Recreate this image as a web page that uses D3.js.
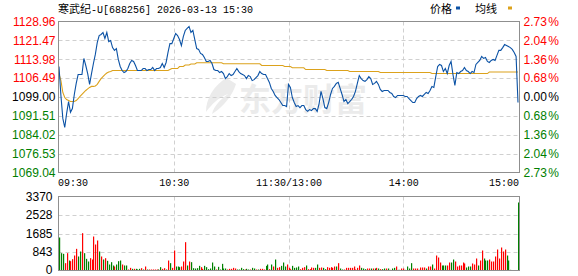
<html>
<head>
<meta charset="utf-8">
<script src="https://d3js.org/d3.v7.min.js"></script>
<style>
body { margin: 0; background: #fff; }
</style>
</head>
<body>
<svg width="578" height="276"></svg>
<script>
var title = "寒武纪";
var titleRest = "-U[688256] 2026-03-13 15:30";
var preClose = 1099.00;
var priceTicks = [1128.96, 1121.47, 1113.98, 1106.49, 1099.00, 1091.51, 1084.02, 1076.53, 1069.04];
var pctLabels = ["2.73", "2.04", "1.36", "0.68", "0.00", "0.68", "1.36", "2.04", "2.73"];
var volTicks = [0, 843, 1685, 2528, 3370];
var timeTicks = [0, 60, 120, 180, 240];
var timeLabels = ["09:30", "10:30", "11:30/13:00", "14:00", "15:00"];
var legendNames = ["价格", "均线"];

// one value per minute, 09:30 .. 11:30, 13:01 .. 15:00
var price = [
  1111.1, 1099.6, 1090.5, 1086.9, 1092.5, 1097.2, 1092.9, 1094.4, 1100.0, 1104.4,
  1107.9, 1107.9, 1107.9, 1114.3, 1111.5, 1108.3, 1104.0, 1108.3, 1112.3, 1115.9,
  1120.6, 1123.4, 1123.8, 1124.6, 1122.2, 1124.6, 1121.0, 1121.4, 1118.6, 1117.5,
  1118.2, 1113.9, 1111.1, 1109.5, 1108.7, 1109.1, 1110.3, 1112.3, 1113.5, 1113.1,
  1111.5, 1109.5, 1109.5, 1109.5, 1110.3, 1110.3, 1109.5, 1109.9, 1109.9, 1110.7,
  1109.5, 1110.3, 1110.3, 1110.7, 1112.3, 1110.7, 1112.7, 1116.7, 1120.2, 1120.2,
  1122.2, 1124.2, 1123.4, 1121.8, 1119.4, 1123.0, 1125.4, 1126.2, 1127.0, 1124.6,
  1125.4, 1121.8, 1118.2, 1117.9, 1116.3, 1115.9, 1114.7, 1113.1, 1113.1, 1113.5,
  1112.3, 1109.9, 1109.5, 1109.5, 1108.7, 1109.1, 1108.3, 1106.3, 1107.1, 1108.3,
  1107.5, 1107.9, 1109.1, 1110.3, 1109.1, 1108.3, 1107.9, 1107.5, 1106.3, 1107.5,
  1107.1, 1105.5, 1105.9, 1106.7, 1107.5, 1109.1, 1108.3, 1107.9, 1107.9, 1106.3,
  1104.8, 1102.4, 1101.2, 1099.6, 1098.8, 1098.0, 1096.8, 1095.6, 1095.6, 1095.2,
  1104.0, 1102.8, 1098.8, 1096.8, 1095.2, 1095.6, 1094.8, 1095.6, 1095.6, 1094.0,
  1093.3, 1094.0, 1093.6, 1094.4, 1094.4, 1093.3, 1096.4, 1101.2, 1098.4, 1094.8,
  1094.4, 1096.8, 1100.0, 1102.4, 1103.2, 1104.4, 1104.8, 1102.4, 1100.0, 1097.2,
  1098.0, 1096.4, 1097.2, 1098.0, 1099.2, 1101.2, 1104.4, 1107.5, 1106.3, 1105.5,
  1105.2, 1105.9, 1107.1, 1106.3, 1104.0, 1104.4, 1105.2, 1104.0, 1102.0, 1101.2,
  1101.6, 1101.6, 1101.6, 1100.8, 1100.4, 1099.2, 1098.8, 1099.6, 1099.6, 1099.6,
  1099.6, 1099.2, 1099.2, 1098.4, 1097.6, 1096.8, 1096.8, 1098.4, 1099.2, 1099.6,
  1099.2, 1100.0, 1100.8, 1100.4, 1101.6, 1103.2, 1102.8, 1107.1, 1111.1, 1111.9,
  1111.5, 1109.1, 1110.3, 1108.3, 1111.5, 1113.1, 1107.9, 1103.6, 1108.7, 1108.3,
  1109.1, 1109.5, 1110.7, 1109.5, 1109.1, 1108.3, 1109.1, 1108.7, 1111.9, 1112.7,
  1113.5, 1115.1, 1114.3, 1114.7, 1113.1, 1112.7, 1113.5, 1113.9, 1113.5, 1115.5,
  1117.5, 1117.5, 1118.6, 1119.8, 1119.4, 1119.0, 1118.6, 1117.9, 1116.7, 1115.1,
  1096.8
];

var avgPrice = [
  1108.3, 1105.5, 1100.8, 1098.8, 1098.0, 1097.6, 1097.2, 1097.2, 1097.2, 1097.6,
  1098.4, 1099.2, 1100.0, 1100.8, 1101.6, 1102.2, 1102.8, 1103.2, 1103.2, 1103.4,
  1104.0, 1105.2, 1106.3, 1107.1, 1107.9, 1108.5, 1108.9, 1109.1, 1109.5, 1109.5,
  1109.5, 1109.5, 1109.5, 1109.5, 1109.5, 1109.5, 1109.5, 1109.5, 1109.5, 1109.5,
  1109.5, 1109.5, 1109.5, 1109.5, 1109.5, 1109.5, 1109.5, 1109.5, 1109.5, 1109.5,
  1109.5, 1109.5, 1109.5, 1109.5, 1109.5, 1109.5, 1109.5, 1109.5, 1109.9, 1110.3,
  1110.3, 1110.3, 1110.3, 1111.1, 1111.1, 1111.1, 1111.7, 1111.7, 1111.7, 1112.1,
  1112.1, 1112.1, 1112.6, 1112.6, 1112.6, 1112.6, 1112.6, 1112.6, 1112.6, 1112.6,
  1112.6, 1112.6, 1112.6, 1112.6, 1112.6, 1112.6, 1112.2, 1112.2, 1112.2, 1112.2,
  1112.2, 1112.2, 1112.2, 1112.2, 1112.2, 1112.2, 1112.2, 1112.2, 1112.2, 1112.2,
  1112.2, 1112.2, 1112.2, 1112.2, 1112.2, 1112.2, 1111.5, 1111.5, 1111.5, 1111.5,
  1111.5, 1111.5, 1111.5, 1111.5, 1111.5, 1111.5, 1111.5, 1111.5, 1111.1, 1111.1,
  1111.1, 1111.1, 1110.6, 1110.6, 1110.6, 1110.6, 1110.6, 1110.6, 1110.6, 1109.9,
  1109.9, 1109.9, 1109.9, 1109.9, 1109.9, 1109.9, 1109.9, 1109.9, 1109.9, 1109.9,
  1109.5, 1109.5, 1109.5, 1109.5, 1109.5, 1109.5, 1109.5, 1109.5, 1109.5, 1109.5,
  1109.5, 1109.5, 1109.1, 1109.1, 1109.1, 1109.1, 1109.1, 1109.1, 1109.1, 1109.1,
  1109.1, 1109.1, 1109.1, 1109.1, 1109.1, 1109.1, 1109.1, 1109.1, 1108.7, 1108.7,
  1108.7, 1108.7, 1108.7, 1108.7, 1108.7, 1108.7, 1108.7, 1108.7, 1108.7, 1108.7,
  1108.7, 1108.7, 1108.7, 1108.7, 1108.7, 1108.7, 1108.7, 1108.7, 1108.7, 1108.7,
  1108.7, 1108.7, 1108.7, 1108.7, 1108.7, 1108.3, 1108.3, 1108.3, 1108.3, 1108.3,
  1108.3, 1108.3, 1108.3, 1108.3, 1108.3, 1108.3, 1108.3, 1108.3, 1108.3, 1108.3,
  1108.3, 1108.3, 1108.3, 1108.3, 1108.3, 1108.3, 1108.3, 1108.3, 1108.3, 1108.3,
  1108.3, 1108.3, 1108.3, 1108.3, 1108.3, 1108.9, 1108.9, 1108.9, 1108.9, 1108.9,
  1108.9, 1108.9, 1108.9, 1108.9, 1108.9, 1108.9, 1108.9, 1108.9, 1108.9, 1108.9,
  1108.9
];

var volume = [
  1503, 789, 759, 334, 789, 455, 425, 516, 683, 986,
  638, 865, 1700, 789, 531, 410, 561, 501, 1548, 1184,
  1366, 865, 638, 501, 561, 440, 273, 379, 228, 182,
  273, 425, 455, 273, 228, 228, 46, 121, 76, 76,
  76, 46, 76, 106, 46, 182, 46, 46, 46, 46,
  46, 46, 46, 152, 76, 106, 46, 455, 334, 121,
  911, 182, 182, 152, 182, 410, 1290, 228, 410, 379,
  106, 91, 106, 212, 152, 76, 212, 152, 61, 91,
  364, 182, 46, 167, 46, 303, 91, 91, 46, 76,
  76, 121, 91, 46, 46, 121, 61, 46, 76, 46,
  46, 121, 91, 46, 46, 76, 76, 46, 212, 273,
  61, 273, 182, 501, 121, 152, 212, 364, 182, 273,
  121, 61, 212, 121, 137, 182, 61, 121, 152, 228,
  61, 61, 137, 121, 121, 273, 121, 137, 121, 61,
  152, 121, 152, 121, 182, 182, 334, 91, 46, 46,
  121, 121, 121, 121, 182, 46, 121, 228, 121, 91,
  61, 91, 91, 91, 91, 91, 121, 91, 61, 61,
  91, 91, 91, 30, 91, 121, 182, 30, 30, 91,
  91, 30, 182, 91, 334, 91, 91, 91, 30, 137,
  137, 137, 91, 182, 182, 273, 91, 683, 592, 364,
  228, 228, 228, 228, 364, 364, 501, 410, 182, 228,
  228, 364, 319, 137, 182, 182, 319, 273, 546, 228,
  455, 911, 546, 455, 455, 501, 410, 410, 638, 956,
  546, 1047, 865, 956, 683, 455, 30, 0, 0, 0,
  3097
];

// 1 = up minute (red), 0 = down minute (green)
var volUp = [
  0, 0, 0, 1, 1, 0, 1, 1, 1, 1,
  0, 0, 1, 0, 0, 0, 1, 1, 1, 1,
  1, 0, 1, 0, 1, 0, 0, 0, 0, 1,
  0, 0, 0, 1, 0, 0, 1, 1, 0, 1,
  0, 0, 0, 1, 0, 1, 0, 1, 1, 1,
  1, 1, 0, 0, 1, 1, 0, 1, 0, 1,
  1, 0, 0, 0, 1, 1, 1, 0, 1, 0,
  0, 0, 0, 0, 1, 1, 0, 0, 0, 0,
  0, 0, 1, 0, 0, 0, 0, 0, 1, 1,
  1, 1, 1, 0, 0, 0, 0, 1, 0, 0,
  1, 0, 0, 1, 0, 1, 1, 1, 0, 0,
  1, 0, 1, 0, 1, 1, 0, 0, 0, 1,
  1, 1, 0, 0, 0, 0, 1, 1, 1, 0,
  1, 1, 1, 1, 0, 0, 1, 1, 0, 0,
  1, 1, 1, 1, 1, 0, 1, 0, 0, 1,
  1, 1, 1, 1, 1, 1, 1, 1, 0, 0,
  0, 1, 1, 0, 1, 0, 1, 0, 1, 0,
  0, 1, 0, 1, 0, 0, 1, 0, 0, 1,
  1, 0, 0, 0, 0, 1, 1, 1, 0, 1,
  1, 1, 0, 1, 1, 0, 1, 1, 1, 1,
  0, 0, 0, 1, 1, 0, 0, 1, 1, 1,
  1, 1, 1, 0, 0, 0, 1, 1, 1, 0,
  1, 1, 0, 0, 0, 1, 1, 1, 1, 1,
  1, 1, 1, 1, 0, 0, 0, 0, 0, 0,
  0
];

var red = "#ff0000", green = "#008000", gridColor = "#d0d0d0", frameColor = "#8f8f8f";
var lineBlue = "#0b52a5", avgGold = "#dca21c";
var sansFont = "Arial, 'Liberation Sans', sans-serif";
var monoFont = "'Liberation Mono', 'DejaVu Sans Mono', monospace";
var cjkFont = "'Noto Sans CJK SC', sans-serif";

var svg = d3.select("svg");
var left = 58.5, right = 519.5;

var x = d3.scaleLinear().domain([0, 240]).range([59, 518]);
var y = d3.scaleLinear().domain([1069.04, 1128.96]).range([172.5, 21.5]);
var yv = d3.scaleLinear().domain([0, 3370]).range([270.5, 196.5]);

function labelColor(i) { return i < 4 ? red : (i == 4 ? "#000" : green); }

// watermark
var wm = svg.append("g").attr("fill", "#ebebeb");
wm.append("path")
  .attr("d", "M226,78 C214,86 206,98 206,112 C212,104 218,98 228,94 C220,100 214,106 212,114 C224,106 232,96 236,84 C233,82 230,80 226,78 Z");
wm.append("text").attr("x", 239).attr("y", 111)
  .attr("font-family", cjkFont).attr("font-weight", "bold").attr("font-size", 32)
  .text("东方财富");

// grid lines
function hGrid(g, values, scale) {
  g.selectAll("line.h").data(values).enter().append("line")
    .attr("x1", left).attr("x2", right)
    .attr("y1", function(d) { return Math.round(scale(d)) + 0.5; })
    .attr("y2", function(d) { return Math.round(scale(d)) + 0.5; })
    .attr("stroke", gridColor).attr("stroke-dasharray", "4,3");
}
function vGrid(g, values, y1, y2) {
  g.selectAll("line.v").data(values).enter().append("line")
    .attr("x1", function(d) { return Math.round(x(d)) + 0.5; })
    .attr("x2", function(d) { return Math.round(x(d)) + 0.5; })
    .attr("y1", y1).attr("y2", y2)
    .attr("stroke", gridColor).attr("stroke-dasharray", "4,3");
}
hGrid(svg.append("g"), priceTicks.slice(1, 8), y);
vGrid(svg.append("g"), timeTicks.slice(1, 4), 21.5, 172.5);
hGrid(svg.append("g"), volTicks.slice(1, 4), yv);
vGrid(svg.append("g"), timeTicks.slice(1, 4), 196.5, 270.5);

// average and price lines
svg.append("path").datum(avgPrice)
  .attr("d", d3.line().x(function(d, i) { return x(i); }).y(function(d) { return y(d); }))
  .attr("fill", "none").attr("stroke", avgGold).attr("stroke-width", 1.1);
svg.append("path").datum(price)
  .attr("d", d3.line().x(function(d, i) { return x(i); }).y(function(d) { return y(d); }))
  .attr("fill", "none").attr("stroke", lineBlue).attr("stroke-width", 1.1);

// volume bars
svg.append("g").selectAll("rect").data(volume).enter().append("rect")
  .attr("x", function(d, i) { return Math.round(x(i)); })
  .attr("width", 1.2)
  .attr("y", function(d) { return yv(d); })
  .attr("height", function(d) { return yv(0) - yv(d); })
  .attr("fill", function(d, i) { return volUp[i] ? red : green; });

// frames
svg.append("rect").attr("x", left).attr("y", 21.5).attr("width", right - left).attr("height", 151)
  .attr("fill", "none").attr("stroke", frameColor);
svg.append("rect").attr("x", left).attr("y", 196.5).attr("width", right - left).attr("height", 74)
  .attr("fill", "none").attr("stroke", frameColor);

// price axis (left)
var ax = svg.append("g").attr("transform", "translate(" + left + ",0)")
  .call(d3.axisLeft(y).tickValues(priceTicks).tickSize(0).tickPadding(3).tickFormat(d3.format(".2f")));
ax.select(".domain").remove();
ax.selectAll("text").attr("font-size", 12).attr("font-family", sansFont)
  .attr("fill", function(d, i) { return labelColor(i); });

// percent axis (right)
var ar = svg.append("g").attr("transform", "translate(" + right + ",0)")
  .call(d3.axisRight(y).tickValues(priceTicks).tickSize(0).tickPadding(4).tickFormat(function(d, i) { return pctLabels[i]; }));
ar.select(".domain").remove();
ar.selectAll("text").attr("font-size", 12).attr("font-family", sansFont)
  .attr("fill", function(d, i) { return labelColor(i); })
  .append("tspan").attr("dx", 1.5).text("%");

// volume axis
var av = svg.append("g").attr("transform", "translate(" + left + ",0)")
  .call(d3.axisLeft(yv).tickValues(volTicks).tickSize(0).tickPadding(6).tickFormat(d3.format("d")));
av.select(".domain").remove();
av.selectAll("text").attr("font-size", 12).attr("font-family", sansFont).attr("fill", "#000")
  .attr("dy", function(d) { return d == 0 ? "0.22em" : "0.32em"; });

// time axis
var at = svg.append("g").attr("transform", "translate(0,172.5)")
  .call(d3.axisBottom(x).tickValues(timeTicks).tickSize(0).tickPadding(6).tickFormat(function(d, i) { return timeLabels[i]; }));
at.select(".domain").remove();
at.selectAll("text").attr("font-size", 10).attr("font-family", monoFont).attr("fill", "#000")
  .attr("text-anchor", function(d, i) { return i == 0 ? "start" : (i == timeTicks.length - 1 ? "end" : "middle"); })
  .attr("dx", function(d, i) { return i == 0 ? -1.5 : (i == timeTicks.length - 1 ? 0.5 : 0); });

// title
var t = svg.append("text").attr("x", 58).attr("y", 12.5).attr("fill", "#000");
t.append("tspan").attr("font-family", cjkFont).attr("font-size", 11).text(title);
t.append("tspan").attr("font-family", monoFont).attr("font-size", 10).text(titleRest);

// legend
svg.append("text").attr("x", 430).attr("y", 13).attr("font-family", cjkFont).attr("font-size", 11).text(legendNames[0]);
svg.append("rect").attr("x", 456).attr("y", 6.5).attr("width", 4).attr("height", 3).attr("fill", lineBlue);
svg.append("text").attr("x", 475).attr("y", 13).attr("font-family", cjkFont).attr("font-size", 11).text(legendNames[1]);
svg.append("rect").attr("x", 508).attr("y", 6.5).attr("width", 4).attr("height", 3).attr("fill", avgGold);
</script>
</body>
</html>
